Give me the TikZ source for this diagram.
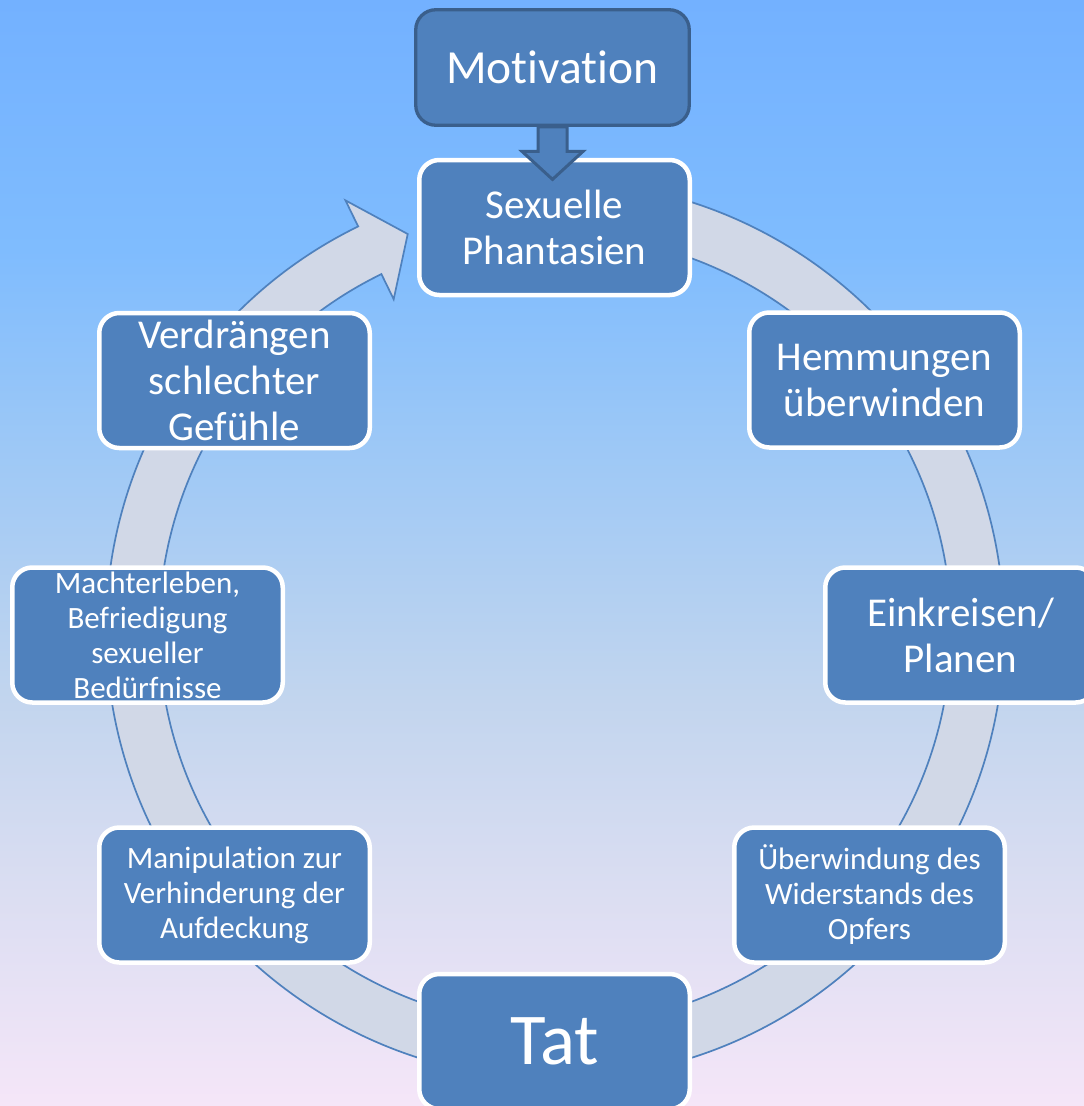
\documentclass[tikz,border=0pt]{standalone}
\usepackage{fontspec}
\setmainfont{Carlito}[RawFeature={-liga;-clig}]
\usetikzlibrary{calc}
\definecolor{boxblue}{HTML}{4F81BD}
\definecolor{boxdark}{HTML}{3A5F8C}
\definecolor{ringfill}{HTML}{D1D8E7}
\definecolor{ringline}{HTML}{4F81BD}
\definecolor{bgA}{HTML}{73B1FF}
\definecolor{bgB}{HTML}{7FBCFE}
\definecolor{bgC}{HTML}{9DC8F6}
\definecolor{bgD}{HTML}{C2D5EE}
\definecolor{bgE}{HTML}{DCDEF2}
\definecolor{bgF}{HTML}{F5E6F8}
\pgfdeclareverticalshading{bgshade}{100bp}{color(0bp)=(bgF); color(25bp)=(bgF); color(34.3bp)=(bgE); color(43.4bp)=(bgD); color(54.7bp)=(bgC); color(63.7bp)=(bgB); color(75bp)=(bgA); color(100bp)=(bgA)}
\tikzset{
  stage/.style={rectangle, rounded corners=20pt, fill=boxblue, draw=white, line width=4.5pt,
    minimum width=270.5pt, minimum height=135pt, text=white, align=center, inner sep=0pt},
  bigtxt/.style={font=\fontsize{41}{46}\selectfont},
  smalltxt/.style={font=\fontsize{31}{35}\selectfont},
  ring/.style={fill=ringfill, draw=ringline, line width=1.7pt, line join=miter},
  blockarrow/.style={fill=boxblue, draw=boxdark, line width=3pt, line join=miter},
}
\begin{document}
\begin{tikzpicture}[x=1pt,y=1pt]
\useasboundingbox (0,0) rectangle (1084,-1106);
\clip (0,0) rectangle (1084,-1106);
\shade[shading=bgshade] (0,0) rectangle (1084,-1106);

\coordinate (C) at (555,-630);
\path[ring] ($(C)+(98:449)$) arc[start angle=98, end angle=-244, radius=449]
  -- ($(C)+(116:478)$) -- ($(C)+(110.4:422.5)$) -- ($(C)+(116:368)$)
  -- ($(C)+(116:396)$) arc[start angle=-244, end angle=98, radius=396] -- cycle;

\node[stage, bigtxt] (sex) at (554.5,-227.5) {Sexuelle\\Phantasien};
\node[stage, bigtxt] (hem) at (884.5,-380) {Hemmungen\\überwinden};
\node[stage, bigtxt] (ein) at (960.5,-635) {Einkreisen/\\Planen};
\node[stage, smalltxt] (ueb) at (869.5,-895) {Überwindung des\\Widerstands des\\Opfers};
\node[stage, font=\fontsize{73}{80}\selectfont] (tat) at (554.5,-1041.5) {Tat};
\node[stage, smalltxt] (man) at (234.5,-895) {Manipulation zur\\Verhinderung der\\Aufdeckung};
\node[stage, smalltxt] (mac) at (147.5,-635) {Machterleben,\\Befriedigung\\sexueller\\Bedürfnisse};
\node[stage, bigtxt] (ver) at (234.5,-380.5) {Verdrängen\\schlechter\\Gefühle};

\node[stage, draw=boxdark, line width=3.3pt, minimum width=273.5pt, minimum height=115.5pt,
  font=\fontsize{47.5}{52}\selectfont] (mot) at (552.5,-67.5) {Motivation};

\path[blockarrow] ($(mot.south)+(-14.5,0)$) -- ($(mot.south)+(-14.5,-24.5)$)
  -- ($(mot.south)+(-30.5,-24.5)$) -- ($(mot.south)+(0,-52.5)$)
  -- ($(mot.south)+(30.5,-24.5)$) -- ($(mot.south)+(14.5,-24.5)$)
  -- ($(mot.south)+(14.5,0)$) -- cycle;
\end{tikzpicture}
\end{document}
